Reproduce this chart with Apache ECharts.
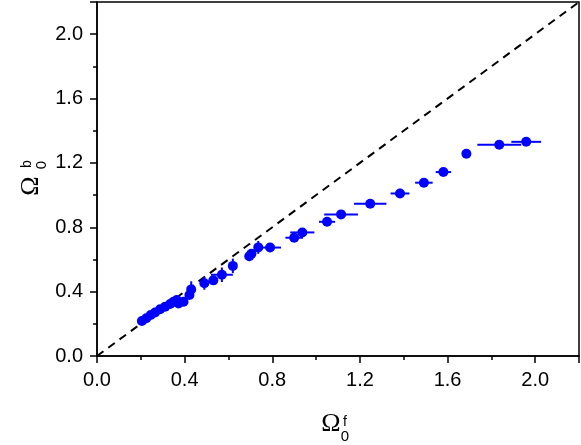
<!DOCTYPE html>
<html>
<head>
<meta charset="utf-8">
<script src="https://cdn.jsdelivr.net/npm/echarts@6/dist/echarts.min.js"></script>
<style>
  html, body { margin: 0; padding: 0; background: #fff; }
  #main { width: 581px; height: 445px; }
</style>
</head>
<body>
<div id="main"></div>
<script>
// measured points: Omega_0^f (x) vs Omega_0^b (y), with error half-widths
var xVals = [0.205, 0.225, 0.245, 0.265, 0.288, 0.311, 0.334, 0.349, 0.364, 0.372, 0.395, 0.422, 0.430,
             0.490, 0.531, 0.570, 0.620, 0.695, 0.705, 0.736, 0.790, 0.900, 0.937, 1.050, 1.114,
             1.247, 1.383, 1.492, 1.581, 1.686, 1.836, 1.959];
var yVals = [0.217, 0.235, 0.255, 0.270, 0.290, 0.306, 0.323, 0.337, 0.348, 0.327, 0.337, 0.379, 0.414,
             0.452, 0.470, 0.505, 0.560, 0.620, 0.635, 0.675, 0.674, 0.735, 0.768, 0.834, 0.880,
             0.946, 1.010, 1.077, 1.143, 1.257, 1.313, 1.331];
var xErr = [0, 0, 0, 0, 0, 0, 0, 0, 0, 0, 0, 0, 0,
            0, 0, 0.05, 0, 0, 0, 0, 0.05, 0.04, 0.055, 0.037, 0.077,
            0.074, 0.043, 0.04, 0.035, 0, 0.10, 0.068];
var yErr = [0, 0, 0, 0, 0, 0, 0, 0, 0, 0, 0, 0, 0.05,
            0.04, 0, 0.045, 0.045, 0.03, 0, 0.04, 0, 0, 0, 0, 0,
            0, 0, 0, 0, 0, 0, 0];
var tickLabels = ['0.0', '0.4', '0.8', '1.2', '1.6', '2.0'];
var diagonal = [[0, 0], [2.2, 2.2]];

var points = xVals.map(function (x, i) { return [x, yVals[i]]; });
var bars = xVals.map(function (x, i) { return [x, yVals[i], xErr[i], yErr[i]]; });

var chart = echarts.init(document.getElementById('main'));

var axisCommon = {
  type: 'value',
  min: 0,
  max: 2.2,
  interval: 0.4,
  axisLine: { show: true, onZero: false, lineStyle: { color: '#000', width: 1.5 } },
  axisTick: { show: true, length: 7, lineStyle: { color: '#000', width: 1.5 } },
  minorTick: { show: true, splitNumber: 2, length: 4, lineStyle: { color: '#000', width: 1.5 } },
  splitLine: { show: false },
  axisLabel: {
    color: '#000',
    fontSize: 20,
    fontFamily: 'Liberation Sans',
    showMaxLabel: false,
    formatter: function (v) {
      var i = Math.round(v / 0.4);
      return Math.abs(v - i * 0.4) < 1e-6 ? tickLabels[i] : '';
    }
  }
};

var serif = 'Liberation Serif';
var sans = 'Liberation Sans';

chart.setOption({
  animation: false,
  grid: { left: 97, right: 2, top: 2, bottom: 89, show: true, borderColor: '#000', borderWidth: 1.5 },
  xAxis: Object.assign({}, axisCommon, { axisLabel: Object.assign({}, axisCommon.axisLabel, { margin: 14 }) }),
  yAxis: Object.assign({}, axisCommon, { axisLabel: Object.assign({}, axisCommon.axisLabel, { margin: 14 }) }),
  graphic: [
    // x axis title: Omega_0^f
    { type: 'text', x: 331, y: 424, style: { text: 'Ω', font: '26px ' + serif, fill: '#000', align: 'center', verticalAlign: 'middle' } },
    { type: 'text', x: 345, y: 437, style: { text: '0', font: '15px ' + sans, fill: '#000', align: 'center', verticalAlign: 'middle' } },
    { type: 'text', x: 345, y: 422, style: { text: 'f', font: '14px ' + sans, fill: '#000', align: 'center', verticalAlign: 'middle' } },
    // y axis title: Omega_0^b (rotated)
    { type: 'text', x: 31, y: 186, rotation: Math.PI / 2, style: { text: 'Ω', font: '26px ' + serif, fill: '#000', align: 'center', verticalAlign: 'middle' } },
    { type: 'text', x: 42, y: 165, rotation: Math.PI / 2, style: { text: '0', font: '15px ' + sans, fill: '#000', align: 'center', verticalAlign: 'middle' } },
    { type: 'text', x: 27, y: 164, rotation: Math.PI / 2, style: { text: 'b', font: '14px ' + sans, fill: '#000', align: 'center', verticalAlign: 'middle' } }
  ],
  series: [
    {
      type: 'line',
      data: diagonal,
      symbol: 'none',
      silent: true,
      lineStyle: { color: '#000', width: 2, type: [8, 6] },
      z: 1
    },
    {
      type: 'custom',
      data: bars,
      silent: true,
      z: 2,
      renderItem: function (params, api) {
        var x = api.value(0), y = api.value(1), ex = api.value(2), ey = api.value(3);
        var children = [];
        var st = { stroke: '#0000ff', lineWidth: 2 };
        if (ex > 0) {
          var a = api.coord([x - ex, y]), b = api.coord([x + ex, y]);
          children.push({ type: 'line', shape: { x1: a[0], y1: a[1], x2: b[0], y2: b[1] }, style: st });
        }
        if (ey > 0) {
          var c = api.coord([x, y - ey]), d = api.coord([x, y + ey]);
          children.push({ type: 'line', shape: { x1: c[0], y1: c[1], x2: d[0], y2: d[1] }, style: st });
        }
        return { type: 'group', children: children };
      }
    },
    {
      type: 'scatter',
      data: points,
      symbol: 'circle',
      symbolSize: 10,
      itemStyle: { color: '#0000ff', opacity: 1 },
      z: 3
    }
  ]
});
</script>
</body>
</html>
